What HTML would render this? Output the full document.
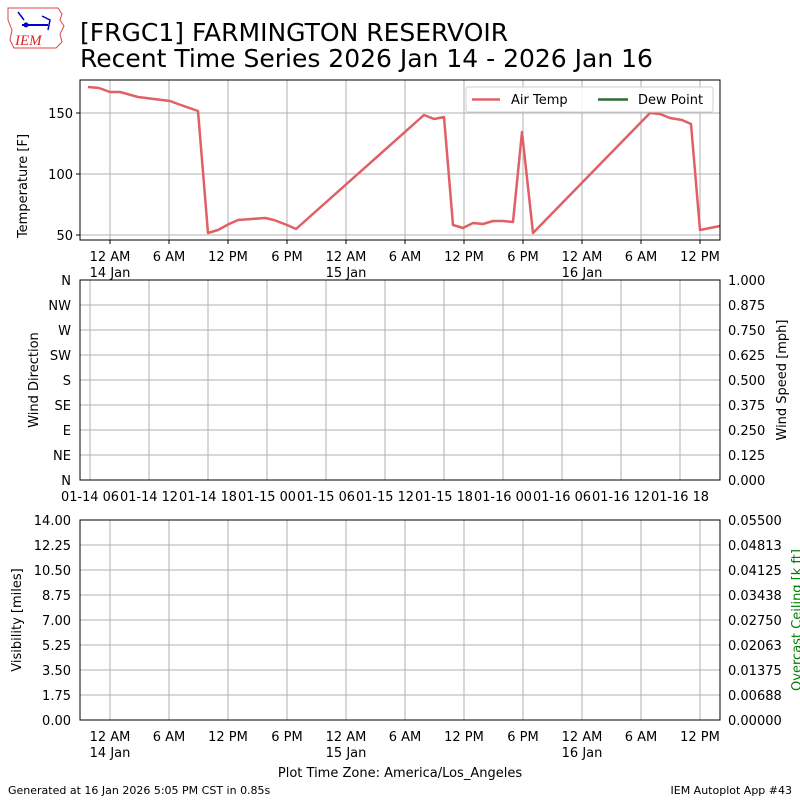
<!DOCTYPE html>
<html><head><meta charset="utf-8"><style>
body{margin:0;background:#fff}
svg{display:block;font-family:"DejaVu Sans","Liberation Sans",sans-serif}
</style></head><body>
<svg width="800" height="800" xmlns="http://www.w3.org/2000/svg">
<rect width="800" height="800" fill="#fff"/>
<g>
<path d="M8 8 L58 8 L62 14 L60 20 L64 26 L60 34 L62 42 L56 48 L14 48 L10 40 L12 30 L8 20 Z" fill="none" stroke="#d44" stroke-width="1"/>
<line x1="22" y1="25" x2="48" y2="25" stroke="#00c" stroke-width="2"/>
<circle cx="26" cy="25" r="2.5" fill="#00c"/>
<path d="M18 12 L24 20 M42 16 L50 20 L48 30" stroke="#00c" stroke-width="1.5" fill="none"/>
<text x="15" y="45" font-family="Liberation Serif,serif" font-style="italic" font-size="15" fill="#d22">IEM</text>
</g>
<text x="80" y="41" font-size="25" fill="#000">[FRGC1] FARMINGTON RESERVOIR</text>
<text x="80" y="67" font-size="25" fill="#000">Recent Time Series 2026 Jan 14 - 2026 Jan 16</text>

<g stroke="#b0b0b0" stroke-width="1">
<line x1="110" y1="80" x2="110" y2="240"/><line x1="169" y1="80" x2="169" y2="240"/><line x1="228" y1="80" x2="228" y2="240"/><line x1="287" y1="80" x2="287" y2="240"/><line x1="346" y1="80" x2="346" y2="240"/><line x1="405" y1="80" x2="405" y2="240"/><line x1="464" y1="80" x2="464" y2="240"/><line x1="523" y1="80" x2="523" y2="240"/><line x1="582" y1="80" x2="582" y2="240"/><line x1="641" y1="80" x2="641" y2="240"/><line x1="700" y1="80" x2="700" y2="240"/>
<line x1="80" y1="113" x2="720" y2="113"/><line x1="80" y1="174" x2="720" y2="174"/><line x1="80" y1="235" x2="720" y2="235"/>
</g>
<polyline fill="none" stroke="#e06066" stroke-width="2.5" stroke-linejoin="round" points="88,87 99,88 110,92 120,92 138,97 170,101 178,104 198,111 208,233 218,230 229,224 238,220 265,218 274,220 287,225 296,229 424,115 434,119 444,117 453,225 463,228 473,223 483,224 493,221 503,221 513,222 522,132 533,233 650,113 660,114 670,118 682,120 691,124 700,230 720,226"/>
<rect x="80" y="80" width="640" height="160" fill="none" stroke="#000" stroke-width="1"/>
<g stroke="#000"><line x1="76" y1="113" x2="80" y2="113"/><line x1="76" y1="174" x2="80" y2="174"/><line x1="76" y1="235" x2="80" y2="235"/></g>
<g font-size="13" text-anchor="end"><text x="73" y="118">150</text><text x="73" y="179">100</text><text x="73" y="240">50</text></g>
<text transform="translate(27,186) rotate(-90)" font-size="13" text-anchor="middle">Temperature [F]</text>
<g stroke="#000"><line x1="110" y1="240" x2="110" y2="244"/><line x1="169" y1="240" x2="169" y2="244"/><line x1="228" y1="240" x2="228" y2="244"/><line x1="287" y1="240" x2="287" y2="244"/><line x1="346" y1="240" x2="346" y2="244"/><line x1="405" y1="240" x2="405" y2="244"/><line x1="464" y1="240" x2="464" y2="244"/><line x1="523" y1="240" x2="523" y2="244"/><line x1="582" y1="240" x2="582" y2="244"/><line x1="641" y1="240" x2="641" y2="244"/><line x1="700" y1="240" x2="700" y2="244"/></g>
<g font-size="13" text-anchor="middle">
<text x="110" y="261">12 AM</text><text x="169" y="261">6 AM</text><text x="228" y="261">12 PM</text><text x="287" y="261">6 PM</text><text x="346" y="261">12 AM</text><text x="405" y="261">6 AM</text><text x="464" y="261">12 PM</text><text x="523" y="261">6 PM</text><text x="582" y="261">12 AM</text><text x="641" y="261">6 AM</text><text x="700" y="261">12 PM</text>
<text x="110" y="277">14 Jan</text><text x="346" y="277">15 Jan</text><text x="582" y="277">16 Jan</text>
</g>
<rect x="466" y="87" width="247" height="25" rx="2" fill="#fff" fill-opacity="0.85" stroke="#d0d0d0"/>
<line x1="472" y1="99.5" x2="500" y2="99.5" stroke="#e06066" stroke-width="2.5"/>
<text x="511" y="104" font-size="13">Air Temp</text>
<line x1="598" y1="99.5" x2="628" y2="99.5" stroke="#2e6b30" stroke-width="2.5"/>
<text x="638" y="104" font-size="13">Dew Point</text>

<g stroke="#b0b0b0">
<line x1="90" y1="280" x2="90" y2="480"/><line x1="149" y1="280" x2="149" y2="480"/><line x1="208" y1="280" x2="208" y2="480"/><line x1="267" y1="280" x2="267" y2="480"/><line x1="326" y1="280" x2="326" y2="480"/><line x1="385" y1="280" x2="385" y2="480"/><line x1="444" y1="280" x2="444" y2="480"/><line x1="503" y1="280" x2="503" y2="480"/><line x1="562" y1="280" x2="562" y2="480"/><line x1="621" y1="280" x2="621" y2="480"/><line x1="680" y1="280" x2="680" y2="480"/>
<line x1="80" y1="305" x2="720" y2="305"/><line x1="80" y1="330" x2="720" y2="330"/><line x1="80" y1="355" x2="720" y2="355"/><line x1="80" y1="380" x2="720" y2="380"/><line x1="80" y1="405" x2="720" y2="405"/><line x1="80" y1="430" x2="720" y2="430"/><line x1="80" y1="455" x2="720" y2="455"/>
</g>
<rect x="80" y="280" width="640" height="200" fill="none" stroke="#000"/>
<g font-size="13" text-anchor="end">
<text x="71" y="285">N</text><text x="71" y="310">NW</text><text x="71" y="335">W</text><text x="71" y="360">SW</text><text x="71" y="385">S</text><text x="71" y="410">SE</text><text x="71" y="435">E</text><text x="71" y="460">NE</text><text x="71" y="485">N</text>
</g>
<g font-size="13">
<text x="728" y="285">1.000</text><text x="728" y="310">0.875</text><text x="728" y="335">0.750</text><text x="728" y="360">0.625</text><text x="728" y="385">0.500</text><text x="728" y="410">0.375</text><text x="728" y="435">0.250</text><text x="728" y="460">0.125</text><text x="728" y="485">0.000</text>
</g>
<text transform="translate(38,380) rotate(-90)" font-size="13" text-anchor="middle">Wind Direction</text>
<text transform="translate(786,380) rotate(-90)" font-size="13" text-anchor="middle">Wind Speed [mph]</text>
<g font-size="13" text-anchor="middle">
<text x="90" y="501" textLength="58" lengthAdjust="spacingAndGlyphs">01-14 06</text><text x="149" y="501" textLength="58" lengthAdjust="spacingAndGlyphs">01-14 12</text><text x="208" y="501" textLength="58" lengthAdjust="spacingAndGlyphs">01-14 18</text><text x="267" y="501" textLength="58" lengthAdjust="spacingAndGlyphs">01-15 00</text><text x="326" y="501" textLength="58" lengthAdjust="spacingAndGlyphs">01-15 06</text><text x="385" y="501" textLength="58" lengthAdjust="spacingAndGlyphs">01-15 12</text><text x="444" y="501" textLength="58" lengthAdjust="spacingAndGlyphs">01-15 18</text><text x="503" y="501" textLength="58" lengthAdjust="spacingAndGlyphs">01-16 00</text><text x="562" y="501" textLength="58" lengthAdjust="spacingAndGlyphs">01-16 06</text><text x="621" y="501" textLength="58" lengthAdjust="spacingAndGlyphs">01-16 12</text><text x="680" y="501" textLength="58" lengthAdjust="spacingAndGlyphs">01-16 18</text>
</g>

<g stroke="#b0b0b0">
<line x1="110" y1="520" x2="110" y2="720"/><line x1="169" y1="520" x2="169" y2="720"/><line x1="228" y1="520" x2="228" y2="720"/><line x1="287" y1="520" x2="287" y2="720"/><line x1="346" y1="520" x2="346" y2="720"/><line x1="405" y1="520" x2="405" y2="720"/><line x1="464" y1="520" x2="464" y2="720"/><line x1="523" y1="520" x2="523" y2="720"/><line x1="582" y1="520" x2="582" y2="720"/><line x1="641" y1="520" x2="641" y2="720"/><line x1="700" y1="520" x2="700" y2="720"/>
<line x1="80" y1="545" x2="720" y2="545"/><line x1="80" y1="570" x2="720" y2="570"/><line x1="80" y1="595" x2="720" y2="595"/><line x1="80" y1="620" x2="720" y2="620"/><line x1="80" y1="645" x2="720" y2="645"/><line x1="80" y1="670" x2="720" y2="670"/><line x1="80" y1="695" x2="720" y2="695"/>
</g>
<rect x="80" y="520" width="640" height="200" fill="none" stroke="#000"/>
<g font-size="13" text-anchor="end">
<text x="71" y="525">14.00</text><text x="71" y="550">12.25</text><text x="71" y="575">10.50</text><text x="71" y="600">8.75</text><text x="71" y="625">7.00</text><text x="71" y="650">5.25</text><text x="71" y="675">3.50</text><text x="71" y="700">1.75</text><text x="71" y="725">0.00</text>
</g>
<g font-size="13">
<text x="728" y="525">0.05500</text><text x="728" y="550">0.04813</text><text x="728" y="575">0.04125</text><text x="728" y="600">0.03438</text><text x="728" y="625">0.02750</text><text x="728" y="650">0.02063</text><text x="728" y="675">0.01375</text><text x="728" y="700">0.00688</text><text x="728" y="725">0.00000</text>
</g>
<text transform="translate(21,620) rotate(-90)" font-size="13" text-anchor="middle">Visibility [miles]</text>
<text transform="translate(801,620) rotate(-90)" font-size="13" text-anchor="middle" fill="#008000">Overcast Ceiling [k ft]</text>
<g font-size="13" text-anchor="middle">
<text x="110" y="741">12 AM</text><text x="169" y="741">6 AM</text><text x="228" y="741">12 PM</text><text x="287" y="741">6 PM</text><text x="346" y="741">12 AM</text><text x="405" y="741">6 AM</text><text x="464" y="741">12 PM</text><text x="523" y="741">6 PM</text><text x="582" y="741">12 AM</text><text x="641" y="741">6 AM</text><text x="700" y="741">12 PM</text>
<text x="110" y="757">14 Jan</text><text x="346" y="757">15 Jan</text><text x="582" y="757">16 Jan</text>
<text x="400" y="777">Plot Time Zone: America/Los_Angeles</text>
</g>
<text x="8" y="794" font-size="11">Generated at 16 Jan 2026 5:05 PM CST in 0.85s</text>
<text x="792" y="794" font-size="11" text-anchor="end">IEM Autoplot App #43</text>
</svg>
</body></html>
